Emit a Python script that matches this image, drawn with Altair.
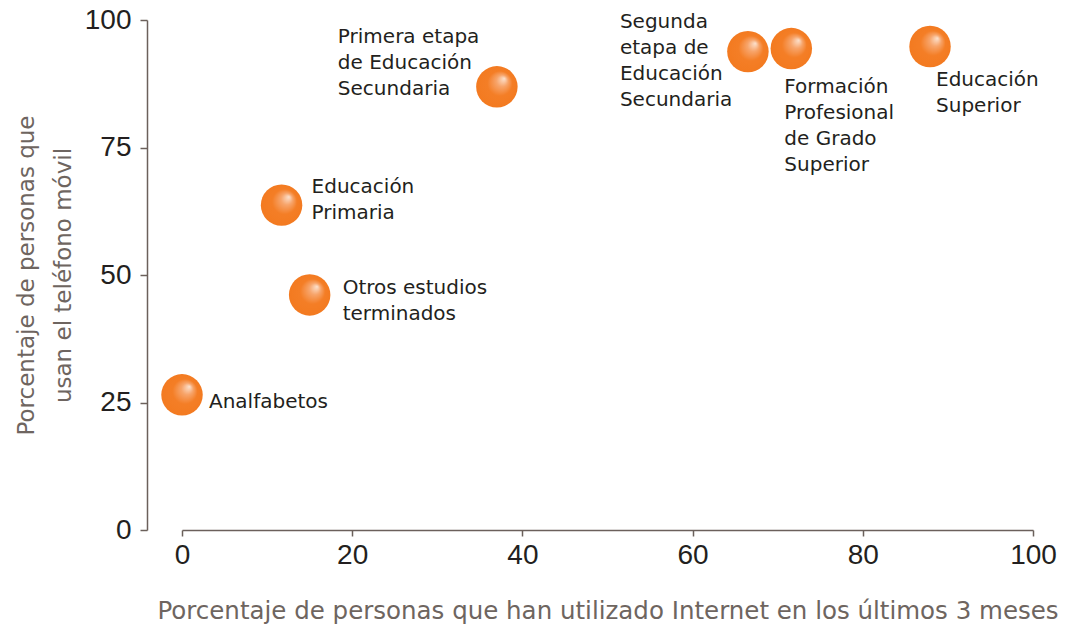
import altair as alt
import pandas as pd

categories = [
    "Analfabetos",
    "Educación Primaria",
    "Otros estudios terminados",
    "Primera etapa de Educación Secundaria",
    "Segunda etapa de Educación Secundaria",
    "Formación Profesional de Grado Superior",
    "Educación Superior",
]
internet = [0.0, 11.7, 15.0, 37.0, 66.5, 71.6, 87.9]
movil = [26.5, 63.7, 46.1, 86.9, 93.8, 94.4, 94.8]
etiquetas = [
    "Analfabetos",
    "Educación\nPrimaria",
    "Otros estudios\nterminados",
    "Primera etapa\nde Educación\nSecundaria",
    "Segunda\netapa de\nEducación\nSecundaria",
    "Formación\nProfesional\nde Grado\nSuperior",
    "Educación\nSuperior",
]
x_ticks = [0, 20, 40, 60, 80, 100]
y_ticks = [0, 25, 50, 75, 100]

df = pd.DataFrame({"nivel": categories, "internet": internet,
                   "movil": movil, "etiqueta": etiquetas})

# label offsets (style, in pixels): first line position relative to each point
label_offsets = {
    "Analfabetos": (27, 7),
    "Educación Primaria": (30, -18),
    "Otros estudios terminados": (33, -7),
    "Primera etapa de Educación Secundaria": (-159, -50),
    "Segunda etapa de Educación Secundaria": (-128, -30),
    "Formación Profesional de Grado Superior": (-7, 38),
    "Educación Superior": (6, 33),
}

AXIS_COLOR = "#6b605b"
TITLE_COLOR = "#6e6560"
TEXT_COLOR = "#231f20"

x_enc = alt.X(
    "internet:Q",
    scale=alt.Scale(domain=[0, 100], nice=False),
    axis=alt.Axis(
        values=x_ticks, grid=False, labelFlush=False,
        title="Porcentaje de personas que han utilizado Internet en los últimos 3 meses",
        domainColor=AXIS_COLOR, tickColor=AXIS_COLOR, tickSize=6, domainWidth=1.5, tickWidth=1.5,
        labelFont="Liberation Sans", labelFontSize=28, labelColor=TEXT_COLOR, labelPadding=5,
        titleFont="DejaVu Sans", titleFontSize=24.5, titleFontWeight="normal",
        titleColor=TITLE_COLOR, titlePadding=30,
    ),
)
y_enc = alt.Y(
    "movil:Q",
    scale=alt.Scale(domain=[0, 100], nice=False),
    axis=alt.Axis(
        values=y_ticks, grid=False, offset=35, labelFlush=False,
        title=["Porcentaje de personas que", "usan el teléfono móvil"],
        domainColor=AXIS_COLOR, tickColor=AXIS_COLOR, tickSize=7, domainWidth=1.5, tickWidth=1.5,
        labelFont="Liberation Sans", labelFontSize=28, labelColor=TEXT_COLOR, labelPadding=9,
        titleFont="DejaVu Sans", titleFontSize=23, titleFontWeight="normal",
        titleColor=TITLE_COLOR, titlePadding=9, titleLineHeight=37,
    ),
)

base = alt.Chart(df).encode(x=x_enc, y=y_enc)

sphere = {
    "gradient": "radial",
    "x1": 0.68, "y1": 0.3, "r1": 0,
    "x2": 0.5, "y2": 0.5, "r2": 0.5,
    "stops": [
        {"offset": 0.0, "color": "#fce2cf"},
        {"offset": 0.28, "color": "#f7a46a"},
        {"offset": 0.6, "color": "#f47e26"},
        {"offset": 1.0, "color": "#f37a20"},
    ],
}

points = base.mark_circle(size=1720, opacity=1, fill=sphere, clip=False)

layers = [points]
for name in categories:
    dx, dy = label_offsets[name]
    layers.append(
        base.transform_filter(alt.datum.nivel == name).mark_text(
            align="left", baseline="middle", dx=dx, dy=dy,
            font="DejaVu Sans", fontSize=20, lineHeight=26,
            lineBreak="\n", color=TEXT_COLOR,
        ).encode(text="etiqueta:N")
    )

chart = alt.layer(*layers).properties(
    width=851, height=510,
    autosize=alt.AutoSizeParams(type="none"),
    padding={"left": 174, "top": 12, "right": 30, "bottom": 94},
).configure_view(stroke=None)

chart.save("out.html", embed_options={"renderer": "svg", "actions": False})
